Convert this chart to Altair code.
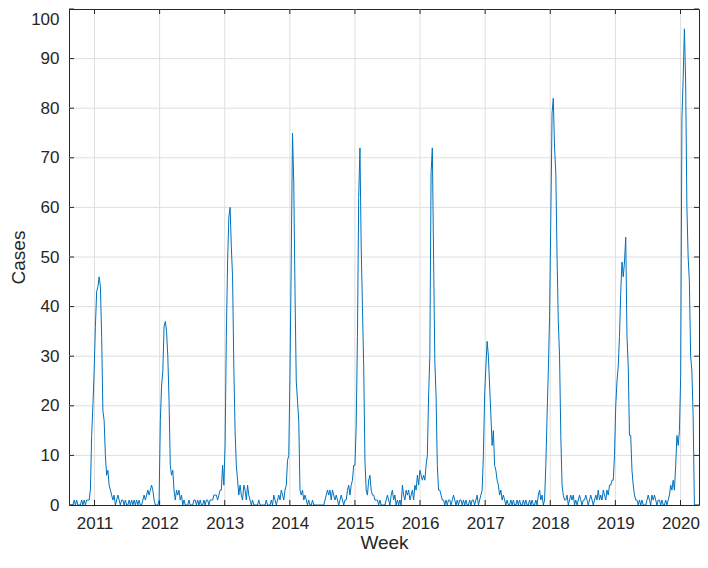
import altair as alt
import numpy as np
import pandas as pd

# ---- data (weekly counts, one list per Aug-Aug season) ----
first_week = "2010-08-12"

s2010 = [0, 0, 0, 0, 1, 0, 1, 0, 0, 0, 1, 0, 1, 0, 1, 1,
         1, 3, 14, 20, 27, 36, 43, 44, 46, 44, 34, 19, 17, 10, 6, 7, 4, 3, 2,
         1, 2, 0, 1, 2, 1, 0, 1, 1, 0, 1, 0, 0, 1, 0, 1, 0]
s2011 = [1, 0, 1, 0, 1, 0, 0, 1, 2, 1, 2, 3, 2, 3, 4, 3, 1, 0, 0, 0, 1,
         17, 24, 27, 36, 37, 35, 30, 21, 8, 6, 7, 3, 1, 3,
         2, 3, 1, 2, 0, 1, 0, 0, 0, 1, 0, 0, 0, 1, 1, 0, 1]
s2012 = [0, 1, 0, 0, 1, 0, 1, 1, 0, 1, 1, 1, 2, 2, 2, 1, 2, 3,
         3, 8, 4, 12, 34, 49, 58, 60, 52, 46, 28, 15, 8, 5, 2, 4, 2, 1,
         4, 3, 1, 4, 2, 1, 0, 1, 0, 0, 0, 0, 1, 0, 0, 0]
s2013 = [0, 0, 1, 0, 0, 0, 1, 0, 2, 1, 0, 1, 2, 1, 3, 2, 1, 3, 4,
         9, 10, 27, 50, 75, 65, 43, 25, 21, 17, 3,
         2, 3, 1, 2, 1, 0, 1, 0, 0, 1, 0, 0, 0, 0, 0, 0, 0, 0, 0, 1, 2, 3]
s2014 = [2, 3, 1, 3, 2, 1, 2, 1, 0, 1, 2, 1, 0, 1, 1, 3, 4, 2, 4, 5, 8, 8,
         16, 34, 62, 72, 52, 40, 28, 9, 3, 2, 5, 6, 3,
         2, 2, 1, 1, 1, 0, 1, 0, 0, 0, 0, 1, 2, 1, 0, 2, 3]
s2015 = [1, 2, 0, 1, 0, 1, 0, 4, 2, 1, 3, 2, 3, 1, 2, 3, 1, 4, 3,
         6, 4, 7, 6, 5, 6, 5, 8, 10, 22, 30, 67, 72, 50, 29, 22, 8, 3, 3,
         2, 1, 1, 0, 1, 0, 1, 1, 0, 1, 2, 1, 0, 1]
s2016 = [0, 1, 1, 0, 1, 0, 1, 0, 0, 1, 0, 1, 1, 0, 1, 2, 0, 1, 2,
         3, 10, 22, 28, 33, 30, 24, 18, 12, 15, 8, 7, 5, 4, 2, 3, 1, 2,
         1, 0, 1, 0, 0, 1, 0, 1, 0, 0, 1, 0, 1, 0, 0]
s2017 = [1, 0, 1, 0, 0, 1, 0, 1, 0, 0, 1, 0, 2, 3, 1, 2, 0, 1,
         8, 18, 27, 38, 58, 79, 82, 72, 67, 50, 37, 30, 14, 4, 2, 1,
         1, 2, 0, 1, 2, 1, 2, 0, 1, 0, 1, 2, 1, 0, 1, 1, 2, 1]
s2018 = [0, 1, 2, 1, 0, 1, 2, 1, 3, 1, 2, 1, 3, 2, 1, 3, 2, 4,
         4, 5, 5, 10, 20, 25, 28, 34, 43, 49, 46, 49, 54, 34, 28, 14, 14, 7, 4, 2, 1,
         1, 0, 1, 0, 1, 0, 0, 0, 1, 2, 1, 0, 2]
s2019 = [1, 2, 1, 0, 1, 1, 0, 1, 0, 0, 1, 0, 1, 2, 4, 3, 5, 3, 8, 14, 12, 15,
         26, 78, 86, 96, 85, 60, 50, 45, 30, 27, 18, 0]

year_ticks = [2011, 2012, 2013, 2014, 2015, 2016, 2017, 2018, 2019, 2020]
case_ticks = [0, 10, 20, 30, 40, 50, 60, 70, 80, 90, 100]
x_limits = ["2010-08-11", "2020-04-14"]
y_limits = [0, 100]


def dec_year(d):
    d = pd.DatetimeIndex(d)
    days = np.where(d.is_leap_year, 366.0, 365.0)
    return np.asarray(d.year + (d.dayofyear - 1) / days, dtype=float)


cases = (s2010 + s2011 + s2012 + s2013 + s2014 + s2015 + s2016 + s2017
         + s2018 + s2019)
dates = pd.date_range(first_week, periods=len(cases), freq="7D")
df = pd.DataFrame({"yr": dec_year(dates), "cases": cases})

xdom = [float(v) for v in dec_year(x_limits)]
xticks_df = pd.DataFrame({"yr": year_ticks})
yticks_df = pd.DataFrame({"cases": case_ticks})
ygrid_df = pd.DataFrame({"cases": case_ticks[1:-1]})

W, H = 630, 496
TXT = "#262626"
FONT = "Liberation Sans"

xscale = alt.Scale(domain=xdom, nice=False, zero=False)
yscale = alt.Scale(domain=y_limits, nice=False, zero=False)

xaxis = alt.Axis(values=year_ticks, format="d", grid=False, domain=False, ticks=False,
                 labelFont=FONT, labelFontSize=17, labelColor=TXT, labelPadding=10,
                 labelFlush=False, labelOverlap=False,
                 title="Week", titleFont=FONT, titleFontSize=19, titleFontWeight="normal",
                 titleColor=TXT, titlePadding=2)
yaxis = alt.Axis(values=case_ticks, format="d", grid=False, domain=False, ticks=False,
                 labelFont=FONT, labelFontSize=17, labelColor=TXT, labelPadding=10,
                 labelFlush=False, labelOverlap=False,
                 labelOffset={"condition": {"test": "datum.value == 100", "value": 10},
                              "value": 0},
                 title="Cases", titleFont=FONT, titleFontSize=19, titleFontWeight="normal",
                 titleColor=TXT, titlePadding=2)

X = alt.X("yr:Q", scale=xscale, axis=xaxis)
Y = alt.Y("cases:Q", scale=yscale, axis=yaxis)

xgrid = alt.Chart(xticks_df).mark_rule(color="#DFDFDF", strokeWidth=1).encode(x=X)
ygrid = alt.Chart(ygrid_df).mark_rule(color="#DFDFDF", strokeWidth=1).encode(y=Y)

tick_len = 5
xt_bottom = alt.Chart(xticks_df).mark_rule(color=TXT, strokeWidth=1).encode(
    x=X, y=alt.value(H - tick_len), y2=alt.value(H))
xt_top = alt.Chart(xticks_df).mark_rule(color=TXT, strokeWidth=1).encode(
    x=X, y=alt.value(0), y2=alt.value(tick_len))
yt_left = alt.Chart(yticks_df).mark_rule(color=TXT, strokeWidth=1).encode(
    y=Y, x=alt.value(0), x2=alt.value(tick_len))
yt_right = alt.Chart(yticks_df).mark_rule(color=TXT, strokeWidth=1).encode(
    y=Y, x=alt.value(W - tick_len), x2=alt.value(W))

line = alt.Chart(df).mark_line(color="#0072BD", strokeWidth=1, clip=True).encode(x=X, y=Y)

chart = alt.layer(xgrid, ygrid, xt_bottom, xt_top, yt_left, yt_right, line).properties(
    width=W, height=H,
    autosize=alt.AutoSizeParams(type="none"),
    padding={"left": 61, "top": 1, "right": 1, "bottom": 51},
    background="white",
).configure_view(stroke=TXT, strokeWidth=1)

chart.save("out.html", embed_options={"renderer": "svg", "actions": False})
